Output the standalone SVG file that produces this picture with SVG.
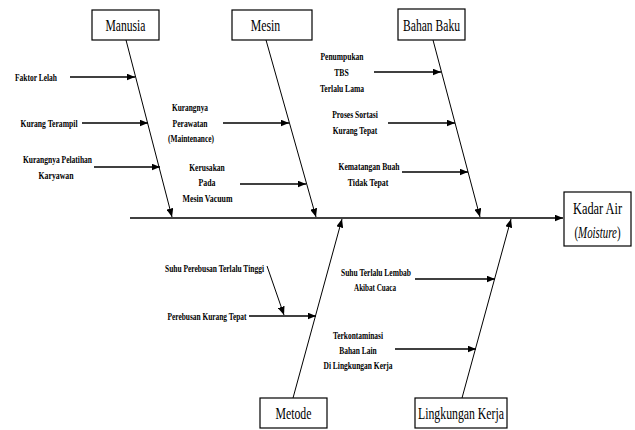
<svg xmlns="http://www.w3.org/2000/svg" width="635" height="430" viewBox="0 0 635 430">
<defs>
<marker id="ah" markerUnits="userSpaceOnUse" markerWidth="9" markerHeight="7" refX="8.5" refY="3.5" orient="auto">
<path d="M0,0 L8.5,3.5 L0,7 z" fill="#000"/>
</marker>
<style>
.box{fill:#fff;stroke:#000;stroke-width:1.2}
.bt{font-family:"Liberation Serif","Times New Roman",serif;font-size:17px;text-anchor:middle;fill:#000}
.lb{font-family:"Liberation Serif","Times New Roman",serif;font-size:11px;font-weight:bold;text-anchor:middle;fill:#000}
.bone{stroke:#000;stroke-width:1;fill:none;marker-end:url(#ah)}
.br{stroke:#000;stroke-width:1.3;fill:none;marker-end:url(#ah)}
.spine{stroke:#000;stroke-width:1.6;fill:none;marker-end:url(#ah)}
</style>
</defs>
<rect width="635" height="430" fill="#fff"/>

<g id="connectors">
<line class="spine" x1="130" y1="218" x2="563" y2="218"/>
<line class="bone" x1="126" y1="40" x2="172" y2="217"/>
<line class="bone" x1="266" y1="40" x2="316" y2="217"/>
<line class="bone" x1="433" y1="40" x2="480" y2="217"/>
<line class="bone" x1="293" y1="398" x2="342" y2="219"/>
<line class="bone" x1="462" y1="398" x2="511" y2="219"/>

<line class="br" x1="70" y1="77" x2="135" y2="77"/>
<line class="br" x1="82" y1="123" x2="148" y2="123"/>
<line class="br" x1="94" y1="167" x2="160" y2="167"/>
<line class="br" x1="223" y1="123" x2="289" y2="123"/>
<line class="br" x1="240" y1="184" x2="306" y2="184"/>
<line class="br" x1="374" y1="72" x2="441" y2="72"/>
<line class="br" x1="388" y1="123" x2="455" y2="123"/>
<line class="br" x1="402" y1="172" x2="468" y2="172"/>
<line class="br" x1="249" y1="316" x2="316" y2="316"/>
<line class="bone" x1="267" y1="266" x2="284" y2="315"/>
<line class="br" x1="415" y1="279" x2="495" y2="279"/>
<line class="br" x1="395" y1="349" x2="476" y2="349"/>
</g>

<g id="manusia">
<rect class="box" x="92" y="10" width="67" height="30"/>
<text class="bt" x="125.5" y="31" textLength="40" lengthAdjust="spacingAndGlyphs">Manusia</text>
</g>
<g id="mesin">
<rect class="box" x="232" y="10" width="80" height="30"/>
<text class="bt" x="265.5" y="31" textLength="29.5" lengthAdjust="spacingAndGlyphs">Mesin</text>
</g>
<g id="bahan-baku">
<rect class="box" x="398" y="9" width="67" height="31"/>
<text class="bt" x="431.5" y="31" textLength="57" lengthAdjust="spacingAndGlyphs">Bahan Baku</text>
</g>
<g id="metode">
<rect class="box" x="260" y="398" width="67" height="30"/>
<text class="bt" x="293.5" y="419" textLength="36" lengthAdjust="spacingAndGlyphs">Metode</text>
</g>
<g id="lingkungan-kerja">
<rect class="box" x="415" y="398" width="92" height="30"/>
<text class="bt" x="461" y="419" textLength="86" lengthAdjust="spacingAndGlyphs">Lingkungan Kerja</text>
</g>
<g id="kadar-air">
<rect class="box" x="564" y="192" width="67" height="54"/>
<text class="bt" x="597.5" y="214" textLength="49" lengthAdjust="spacingAndGlyphs">Kadar Air</text>
<text class="bt" x="597.5" y="238" textLength="46" lengthAdjust="spacingAndGlyphs">(<tspan font-style="italic">Moisture</tspan>)</text>
</g>

<g id="faktor-lelah"><text class="lb" x="36" y="80.5" textLength="42" lengthAdjust="spacingAndGlyphs">Faktor Lelah</text></g>
<g id="kurang-terampil"><text class="lb" x="49" y="126.5" textLength="57" lengthAdjust="spacingAndGlyphs">Kurang Terampil</text></g>
<g id="kurangnya-pelatihan">
<text class="lb" x="57.5" y="162.5" textLength="69" lengthAdjust="spacingAndGlyphs">Kurangnya Pelatihan</text>
<text class="lb" x="56" y="178.5" textLength="35" lengthAdjust="spacingAndGlyphs">Karyawan</text>
</g>
<g id="kurangnya-perawatan">
<text class="lb" x="190" y="110.5" textLength="36" lengthAdjust="spacingAndGlyphs">Kurangnya</text>
<text class="lb" x="190" y="126.5" textLength="35" lengthAdjust="spacingAndGlyphs">Perawatan</text>
<text class="lb" x="191" y="142" textLength="46" lengthAdjust="spacingAndGlyphs">(Maintenance)</text>
</g>
<g id="kerusakan">
<text class="lb" x="207" y="170.5" textLength="35.5" lengthAdjust="spacingAndGlyphs">Kerusakan</text>
<text class="lb" x="207" y="186" textLength="17" lengthAdjust="spacingAndGlyphs">Pada</text>
<text class="lb" x="207.5" y="201.5" textLength="50" lengthAdjust="spacingAndGlyphs">Mesin Vacuum</text>
</g>
<g id="penumpukan">
<text class="lb" x="342" y="60" textLength="43" lengthAdjust="spacingAndGlyphs">Penumpukan</text>
<text class="lb" x="341.5" y="75.5" textLength="14.5" lengthAdjust="spacingAndGlyphs">TBS</text>
<text class="lb" x="342" y="91.5" textLength="44" lengthAdjust="spacingAndGlyphs">Terlalu Lama</text>
</g>
<g id="proses-sortasi">
<text class="lb" x="355" y="117.5" textLength="45.5" lengthAdjust="spacingAndGlyphs">Proses Sortasi</text>
<text class="lb" x="355" y="133.5" textLength="44.5" lengthAdjust="spacingAndGlyphs">Kurang Tepat</text>
</g>
<g id="kematangan">
<text class="lb" x="369" y="169.5" textLength="61" lengthAdjust="spacingAndGlyphs">Kematangan Buah</text>
<text class="lb" x="368" y="185.5" textLength="40.5" lengthAdjust="spacingAndGlyphs">Tidak Tepat</text>
</g>
<g id="suhu-perebusan"><text class="lb" x="214.5" y="272" textLength="99" lengthAdjust="spacingAndGlyphs">Suhu Perebusan Terlalu Tinggi</text></g>
<g id="perebusan"><text class="lb" x="207" y="320" textLength="79" lengthAdjust="spacingAndGlyphs">Perebusan Kurang Tepat</text></g>
<g id="suhu-lembab">
<text class="lb" x="376" y="275.5" textLength="70" lengthAdjust="spacingAndGlyphs">Suhu Terlalu Lembab</text>
<text class="lb" x="375" y="291" textLength="42" lengthAdjust="spacingAndGlyphs">Akibat Cuaca</text>
</g>
<g id="terkontaminasi">
<text class="lb" x="358" y="338.5" textLength="50" lengthAdjust="spacingAndGlyphs">Terkontaminasi</text>
<text class="lb" x="358" y="353.5" textLength="37.5" lengthAdjust="spacingAndGlyphs">Bahan Lain</text>
<text class="lb" x="358" y="368.5" textLength="69" lengthAdjust="spacingAndGlyphs">Di Lingkungan Kerja</text>
</g>
</svg>
